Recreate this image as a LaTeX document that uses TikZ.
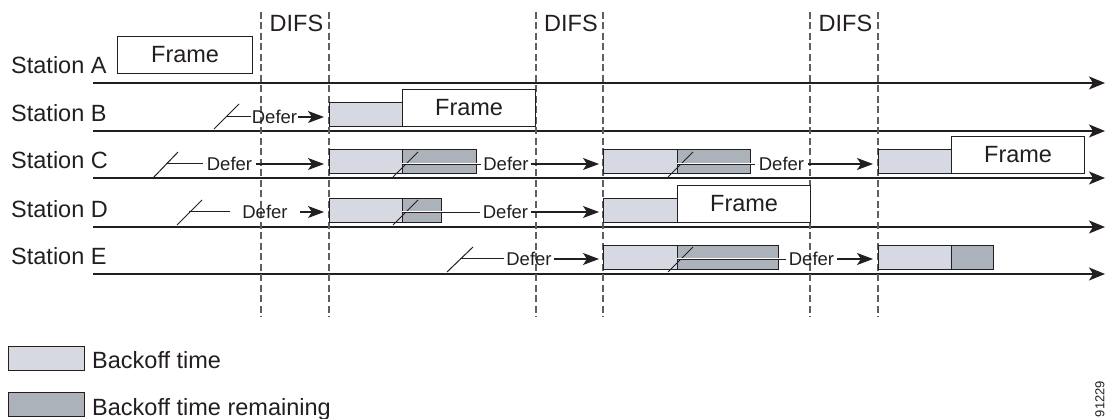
\documentclass[tikz,border=0pt]{standalone}
\usepackage{fontspec}
\setmainfont{Liberation Sans}
\usetikzlibrary{arrows.meta}

\definecolor{lightbk}{RGB}{214,217,225}
\definecolor{darkbk}{RGB}{172,178,186}
\definecolor{ink}{RGB}{35,31,32}
\definecolor{difsgray}{RGB}{95,95,95}

\tikzset{
  bigtext/.style = {font=\fontsize{23.5pt}{28pt}\selectfont},
  station/.style = {bigtext, anchor=base west, inner sep=0},
  timeline/.style = {line width=1.6pt, -{Stealth[length=16pt,width=13pt,inset=4pt]}},
  difsline/.style = {difsgray, line width=1.1pt, dash pattern=on 7pt off 3.5pt},
  backoff/.style = {draw, line width=1.2pt, fill=lightbk, minimum height=23.5pt, inner sep=0, anchor=south west},
  remaining/.style = {backoff, fill=darkbk},
  framebox/.style = {draw, line width=1.2pt, fill=white, minimum height=37pt, inner sep=0, anchor=south west, bigtext}
}

\begin{document}
\begin{tikzpicture}[x=1pt,y=-1pt,color=ink]
      \useasboundingbox (0,0) rectangle (1113,419);

      % Stations and timelines
      \node[station] (stA) at (11,73.5) {Station A};
      \node[station] (stB) at (11,121.5) {Station B};
      \node[station] (stC) at (11,168.5) {Station C};
      \node[station] (stD) at (11,217.5) {Station D};
      \node[station] (stE) at (11,264.5) {Station E};
      \coordinate (A0) at (93,83);   \coordinate (A1) at (1105,83);
      \coordinate (B0) at (93,131);  \coordinate (B1end) at (1105,131);
      \coordinate (C0) at (93,178);  \coordinate (C1end) at (1105,178);
      \coordinate (D0) at (93,227);  \coordinate (D1end) at (1105,227);
      \coordinate (E0) at (93,274);  \coordinate (E1end) at (1105,274);
      \draw[timeline] (A0) -- (A1);
      \draw[timeline] (B0) -- (B1end);
      \draw[timeline] (C0) -- (C1end);
      \draw[timeline] (D0) -- (D1end);
      \draw[timeline] (E0) -- (E1end);

      % DIFS
      \coordinate (q1) at (261,12);  \coordinate (r1) at (261,317);
      \coordinate (q2) at (329,12);  \coordinate (r2) at (329,317);
      \coordinate (q3) at (536,12);  \coordinate (r3) at (536,317);
      \coordinate (q4) at (603,12);  \coordinate (r4) at (603,317);
      \coordinate (q5) at (810,12);  \coordinate (r5) at (810,317);
      \coordinate (q6) at (878,12);  \coordinate (r6) at (878,317);
      \draw[difsline] (q1) -- (r1);
      \draw[difsline] (q2) -- (r2);
      \draw[difsline] (q3) -- (r3);
      \draw[difsline] (q4) -- (r4);
      \draw[difsline] (q5) -- (r5);
      \draw[difsline] (q6) -- (r6);
      \node[bigtext, anchor=base, inner sep=0] (difs1) at (296.5,32) {DIFS};
      \node[bigtext, anchor=base, inner sep=0] (difs2) at (571,32) {DIFS};
      \node[bigtext, anchor=base, inner sep=0] (difs3) at (845.5,32) {DIFS};

      % Boxes
      \node[framebox, minimum width=135pt] (Af) at (117,74) {Frame};
      \node[backoff, minimum width=73pt] (Bb1) at (329,127) {};
      \node[framebox, minimum width=133pt] (Bf) at (402,127) {Frame};
      \node[backoff, minimum width=73pt] (Cb1) at (329,174) {};
      \node[remaining, minimum width=74pt] (Cr1) at (402,174) {};
      \node[backoff, minimum width=74pt] (Cb2) at (603,174) {};
      \node[remaining, minimum width=73pt] (Cr2) at (677,174) {};
      \node[backoff, minimum width=73pt] (Cb3) at (878,174) {};
      \node[framebox, minimum width=133pt] (Cf) at (951,174) {Frame};
      \node[backoff, minimum width=73pt] (Db1) at (329,223) {};
      \node[remaining, minimum width=39pt] (Dr1) at (402,223) {};
      \node[backoff, minimum width=74pt] (Db2) at (603,223) {};
      \node[framebox, minimum width=133pt] (Df) at (677,223) {Frame};
      \node[backoff, minimum width=74pt] (Eb1) at (603,270) {};
      \node[remaining, minimum width=101pt] (Er1) at (677,270) {};
      \node[backoff, minimum width=73pt] (Eb2) at (878,270) {};
      \node[remaining, minimum width=42pt] (Er2) at (951,270) {};

      % Defers
      \tikzset{deferlbl/.style = {font=\fontsize{18.5pt}{22pt}\selectfont, inner ysep=0},
               slashmark/.style = {line width=1pt},
               deferline/.style = {line width=1pt},
               inbox/.style = {line width=0.6pt, double=white, double distance=1pt},
               deferarrow/.style = {line width=1.1pt, -{Stealth[length=16pt,width=12pt,inset=4pt]}}}
      % B
      \coordinate (sB) at (227,117);
      \draw[slashmark] (sB) ++(-13,12) -- ++(25,-25);
      \node[deferlbl, inner xsep=1pt] (dB) at (274.5,117) {Defer};
      \draw[deferline] (sB) -- (dB.west);
      \draw[deferarrow, shorten >=5pt] (dB.east) -- (dB.east -| Bb1.west);
      % C
      \coordinate (sC1) at (166,164);
      \draw[slashmark] (sC1) ++(-13,14) -- ++(25,-26);
      \node[deferlbl, inner xsep=4pt] (dC1) at (229.5,164) {Defer};
      \draw[deferline] (sC1) -- (dC1.west);
      \draw[deferarrow, shorten >=5pt] (dC1.east) -- (dC1.east -| Cb1.west);
      \coordinate (sC2) at (402,164);
      \draw[slashmark] (sC2) ++(-9,13) -- ++(25,-25);
      \node[deferlbl, inner xsep=2pt] (dC2) at (506,164) {Defer};
      \draw[inbox] (sC2) -- (dC2.west);
      \draw[deferarrow, shorten >=4pt] (dC2.east) -- (dC2.east -| Cb2.west);
      \coordinate (sC3) at (677,164);
      \draw[slashmark] (sC3) ++(-9,13) -- ++(25,-25);
      \node[deferlbl, inner xsep=4pt] (dC3) at (781.5,164) {Defer};
      \draw[inbox] (sC3) -- (dC3.west);
      \draw[deferarrow, shorten >=5pt] (dC3.east) -- (dC3.east -| Cb3.west);
      % D
      \coordinate (sD1) at (189,212);
      \draw[slashmark] (sD1) ++(-12,13) -- ++(25,-25);
      \node[deferlbl, inner xsep=12.5pt] (dD1) at (265,212) {Defer};
      \draw[deferline] (sD1) -- (dD1.west);
      \draw[deferarrow, shorten >=5pt] (dD1.east) -- (dD1.east -| Db1.west);
      \coordinate (sD2) at (402,212);
      \draw[slashmark] (sD2) ++(-9,13) -- ++(25,-25);
      \node[deferlbl, inner xsep=3pt] (dD2) at (505.5,212) {Defer};
      \draw[inbox] (sD2) -- (dD2.west);
      \draw[deferarrow, shorten >=4pt] (dD2.east) -- (dD2.east -| Db2.west);
      % E
      \coordinate (sE1) at (460,259);
      \draw[slashmark] (sE1) ++(-13,13) -- ++(26,-25);
      \node[deferlbl, inner xsep=2pt] (dE1) at (529,259) {Defer};
      \draw[deferline] (sE1) -- (dE1.west);
      \draw[deferarrow, shorten >=4pt] (dE1.east) -- (dE1.east -| Eb1.west);
      \coordinate (sE2) at (677,259);
      \draw[slashmark] (sE2) ++(-9,13) -- ++(25,-25);
      \node[deferlbl, inner xsep=3pt] (dE2) at (811.5,259) {Defer};
      \draw[inbox] (sE2) -- (dE2.west);
      \draw[deferarrow, shorten >=5pt] (dE2.east) -- (dE2.east -| Eb2.west);

      % Legend
      \node[backoff, minimum width=76pt, minimum height=24pt] (keyB) at (8,371) {};
      \node[station] (keyBt) at (92,368) {Backoff time};
      \node[remaining, minimum width=76pt, minimum height=24pt] (keyR) at (8,417) {};
      \node[station] (keyRt) at (92,415) {Backoff time remaining};
      \node[rotate=90, inner sep=0, font=\fontsize{13pt}{15pt}\selectfont] (figno) at (1100,399) {91229};
\end{tikzpicture}
\end{document}
